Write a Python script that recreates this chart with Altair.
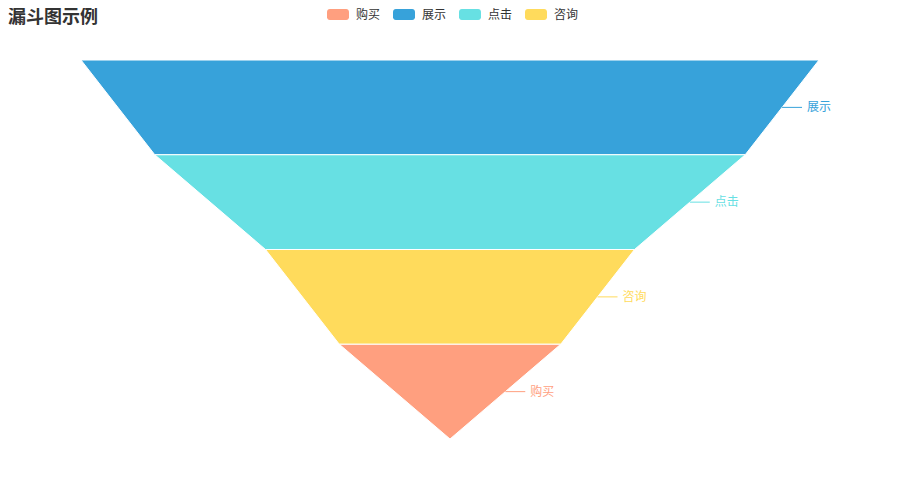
import altair as alt
import pandas as pd

# Data
title_text = ["漏斗图示例"]
stages = ["展示", "点击", "咨询", "购买"]
values = [100, 80, 50, 30]
legend_order = ["购买", "展示", "点击", "咨询"]
legend_colors = ["#ff9f7f", "#37a2da", "#67e0e3", "#ffdb5c"]

n = len(stages)
area_rows = []
label_rows = []
for i, (s, v) in enumerate(zip(stages, values)):
    nxt = values[i + 1] if i + 1 < n else 0
    top = n - i
    bot = n - i - 1
    area_rows.append({"stage": s, "level": top, "left": -v / 2, "right": v / 2})
    area_rows.append({"stage": s, "level": bot, "left": -nxt / 2, "right": nxt / 2})
    edge = (v + nxt) / 4
    label_rows.append({"stage": s, "level": (top + bot) / 2, "edge": edge, "end": edge + 2.7})

area_df = pd.DataFrame(area_rows)
label_df = pd.DataFrame(label_rows)
title_df = pd.DataFrame({"title": title_text})

FONT = "Noto Sans CJK SC"
W, H = 884, 484
px_per_unit = 7.38
half = (W / 2) / px_per_unit
lvl_px = 94.75
y_lo = (431 - H) / lvl_px
y_hi = 431 / lvl_px

xs = alt.Scale(domain=[-half, half], zero=False, nice=False)
ys = alt.Scale(domain=[y_lo, y_hi], zero=False, nice=False)
color = alt.Color(
    "stage:N",
    scale=alt.Scale(domain=legend_order, range=legend_colors),
    legend=alt.Legend(
        title=None,
        orient="none",
        legendX=319,
        legendY=-7.5,
        direction="horizontal",
        padding=0,
        symbolType="M-0.8,-0.393H0.371A0.2,0.2 0 0 1 0.571,-0.193V0.193A0.2,0.2 0 0 1 0.371,0.393H-0.8A0.2,0.2 0 0 1 -1,0.193V-0.193A0.2,0.2 0 0 1 -0.8,-0.393Z",
        symbolSize=784,
        symbolStrokeWidth=0,
        symbolOpacity=1,
        labelOffset=1,
        columnPadding=11,
        labelFontSize=12,
        labelFont=FONT,
        labelColor="#333333",
    ),
)

funnel = alt.Chart(area_df).mark_area(
    orient="horizontal", stroke="white", strokeWidth=1, opacity=1
).encode(
    y=alt.Y("level:Q", scale=ys, axis=None),
    x=alt.X("left:Q", scale=xs, axis=None),
    x2="right:Q",
    color=color,
    detail="stage:N",
)

lines = alt.Chart(label_df).mark_rule(strokeWidth=1).encode(
    y=alt.Y("level:Q", scale=ys, axis=None),
    x=alt.X("edge:Q", scale=xs, axis=None),
    x2="end:Q",
    color=alt.Color("stage:N", scale=alt.Scale(domain=legend_order, range=legend_colors), legend=None),
)

texts = alt.Chart(label_df).mark_text(
    align="left", baseline="middle", dx=25, fontSize=12, font=FONT
).encode(
    y=alt.Y("level:Q", scale=ys, axis=None),
    x=alt.X("edge:Q", scale=xs, axis=None),
    text="stage:N",
    color=alt.Color("stage:N", scale=alt.Scale(domain=legend_order, range=legend_colors), legend=None),
)

title = alt.Chart(title_df).mark_text(
    align="left", baseline="alphabetic", fontSize=18, fontWeight="bold",
    font=FONT, color="#333333",
).encode(
    x=alt.value(0),
    y=alt.value(15),
    text="title:N",
)

chart = alt.layer(funnel, lines, texts, title).properties(
    width=W,
    height=H,
    padding=0,
    autosize=alt.AutoSizeParams(type="none"),
).configure_view(strokeWidth=0)

chart.save("out.html", embed_options={"renderer": "svg", "actions": False})
